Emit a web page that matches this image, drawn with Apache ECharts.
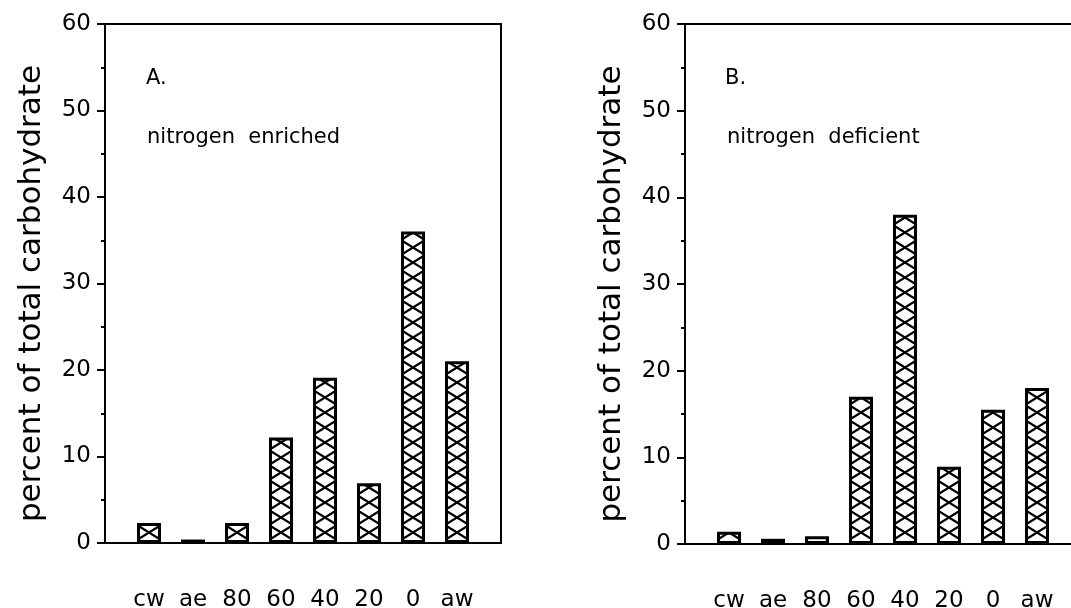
<!DOCTYPE html>
<html>
<head>
<meta charset="utf-8">
<script src="https://cdn.jsdelivr.net/npm/echarts@6/dist/echarts.min.js"></script>
<style>
  html, body { margin: 0; padding: 0; background: #ffffff; }
  #chart { width: 1071px; height: 608px; }
</style>
</head>
<body>
<div id="chart"></div>
<script>
// categories along the bottom of both panels
const categories = ['cw', 'ae', '80', '60', '40', '20', '0', 'aw']
// percent of total carbohydrate
const enrichedValues = [2.3, 0.4, 2.3, 12.2, 19.1, 6.9, 36, 21]
const deficientValues = [1.4, 0.6, 0.9, 17, 38, 8.9, 15.5, 18]
const yTicks = [0, 10, 20, 30, 40, 50, 60]

const FONT = 'DejaVu Sans'
const STEP = 44

// padded category list so the bars sit a slot in from each frame edge
const paddedCats = [''].concat(categories, [''])

// cross-hatch tile, one X per bar width, repeated every category step
const makeHatch = (centerX) => {
  const c = document.createElement('canvas')
  c.width = STEP
  c.height = 15
  const ctx = c.getContext('2d')
  ctx.fillStyle = '#ffffff'
  ctx.fillRect(0, 0, c.width, c.height)
  ctx.strokeStyle = '#000000'
  ctx.lineWidth = 2.2
  const cx = ((centerX % STEP) + STEP) % STEP
  for (const off of [-STEP, 0, STEP]) {
    ctx.beginPath()
    ctx.moveTo(cx + off - 12, 0)
    ctx.lineTo(cx + off + 12, c.height)
    ctx.moveTo(cx + off + 12, 0)
    ctx.lineTo(cx + off - 12, c.height)
    ctx.stroke()
  }
  return c
}

const gridA = { left: 105, top: 24, width: STEP * 9, height: 519 }
const gridB = { left: 685, top: 24, width: STEP * 9, height: 520 }

const xAxisFor = (gridIndex) => ({
  type: 'category',
  gridIndex,
  data: paddedCats,
  boundaryGap: false,
  axisLine: { lineStyle: { color: '#000', width: 2 } },
  axisTick: { show: false },
  axisLabel: { color: '#000', fontSize: 23, fontFamily: FONT, margin: 46, interval: 0 },
  splitLine: { show: false }
})

const yAxisFor = (gridIndex) => ({
  type: 'value',
  gridIndex,
  min: yTicks[0],
  max: yTicks[yTicks.length - 1],
  interval: 10,
  name: 'percent of total carbohydrate',
  nameLocation: 'middle',
  nameGap: 58,
  nameTextStyle: { color: '#000', fontSize: 31, fontFamily: FONT, padding: [0, 20, 0, 0] },
  axisLine: { show: true, lineStyle: { color: '#000', width: 2 } },
  axisTick: { show: true, length: 8, lineStyle: { color: '#000', width: 2 } },
  minorTick: { show: true, splitNumber: 2, length: 4, lineStyle: { color: '#000', width: 2 } },
  axisLabel: { color: '#000', fontSize: 23, fontFamily: FONT, margin: 14 },
  splitLine: { show: false }
})

const barSeries = (idx, values, hatch) => ({
  type: 'bar',
  xAxisIndex: idx,
  yAxisIndex: idx,
  barWidth: 24,
  data: values.map((v, i) => [i + 1, v]),
  itemStyle: {
    color: { image: hatch, repeat: 'repeat' },
    borderColor: '#000',
    borderWidth: 3
  },
  silent: true
})

const panelText = (left, top, text) => ({
  type: 'text',
  left,
  top,
  style: { text, fill: '#000', fontSize: 21, fontFamily: FONT }
})

const gridStyle = { show: true, borderColor: '#000', borderWidth: 2, outerBoundsMode: 'none', containLabel: false }

const chart = echarts.init(document.getElementById('chart'), null, { renderer: 'canvas' })
chart.setOption({
  backgroundColor: '#ffffff',
  animation: false,
  grid: [
    Object.assign({}, gridStyle, gridA),
    Object.assign({}, gridStyle, gridB)
  ],
  xAxis: [xAxisFor(0), xAxisFor(1)],
  yAxis: [yAxisFor(0), yAxisFor(1)],
  series: [
    barSeries(0, enrichedValues, makeHatch(gridA.left + STEP)),
    barSeries(1, deficientValues, makeHatch(gridB.left + STEP))
  ],
  graphic: [
    panelText(146, 68, 'A.'),
    panelText(147, 127, 'nitrogen  enriched'),
    panelText(725, 68, 'B.'),
    panelText(727, 127, 'nitrogen  deficient')
  ]
})
</script>
</body>
</html>
